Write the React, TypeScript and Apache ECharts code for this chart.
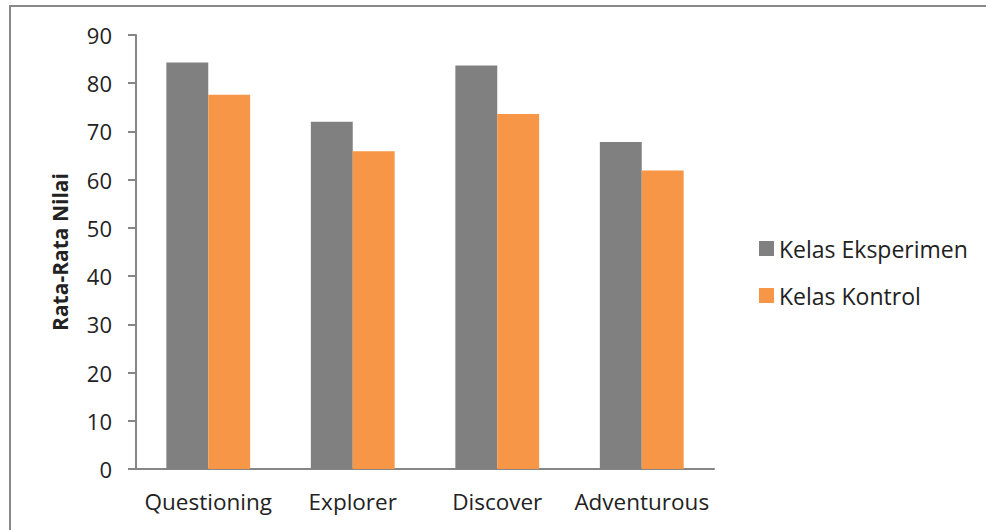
import React, { useEffect, useRef } from "react";
import * as echarts from "echarts";

const categories = ["Questioning", "Explorer", "Discover", "Adventurous"];
const seriesNames = ["Kelas Eksperimen", "Kelas Kontrol"];
const eksperimen = [84.3, 72.0, 83.7, 67.8];
const kontrol = [77.6, 65.9, 73.6, 61.9];
const yMin = 0;
const yMax = 90;
const yInterval = 10;

export default function App() {
  const ref = useRef<HTMLDivElement>(null);
  useEffect(() => {
    if (!ref.current) return;
    const chart = echarts.init(ref.current, undefined, { renderer: "svg" });
    const font = "'Open Sans', 'Liberation Sans', sans-serif";
    chart.setOption({
      animation: false,
      backgroundColor: "#ffffff",
      textStyle: { fontFamily: font },
      graphic: [
        {
          type: "rect",
          shape: { x: 10, y: 6, width: 1200, height: 800 },
          style: { fill: "none", stroke: "#888888", lineWidth: 2 },
          silent: true,
        },
      ],
      legend: {
        orient: "vertical",
        left: 754,
        top: 232,
        itemWidth: 15,
        itemHeight: 15,
        itemGap: 24,
        icon: "rect",
        textStyle: { fontSize: 23, color: "#222", fontFamily: font },
        data: seriesNames,
      },
      grid: { left: 136, right: 272, top: 35, bottom: 61, containLabel: false },
      xAxis: {
        type: "category",
        data: categories,
        axisLine: { lineStyle: { color: "#868686", width: 2 } },
        axisTick: { show: false },
        axisLabel: { fontSize: 22.5, color: "#222", margin: 21, fontFamily: font, interval: 0 },
      },
      yAxis: {
        type: "value",
        min: yMin,
        max: yMax,
        interval: yInterval,
        name: "Rata-Rata Nilai",
        nameLocation: "middle",
        nameGap: 66,
        nameTextStyle: { fontSize: 21, fontWeight: "bold", color: "#222", fontFamily: font },
        axisLine: { show: true, lineStyle: { color: "#868686", width: 2 } },
        axisTick: { show: true, length: 8, lineStyle: { color: "#868686", width: 2 } },
        splitLine: { show: false },
        axisLabel: { fontSize: 22, color: "#222", margin: 24, fontFamily: font },
      },
      series: [
        {
          name: seriesNames[0],
          type: "bar",
          data: eksperimen,
          barGap: "0%",
          barCategoryGap: "42%",
          itemStyle: { color: "#808080" },
        },
        {
          name: seriesNames[1],
          type: "bar",
          data: kontrol,
          barGap: "0%",
          barCategoryGap: "42%",
          itemStyle: { color: "#F79646" },
        },
      ],
    });
    return () => chart.dispose();
  }, []);
  return (
    <div
      ref={ref}
      style={{ position: "absolute", left: 0, top: 0, width: 986, height: 530 }}
    />
  );
}
